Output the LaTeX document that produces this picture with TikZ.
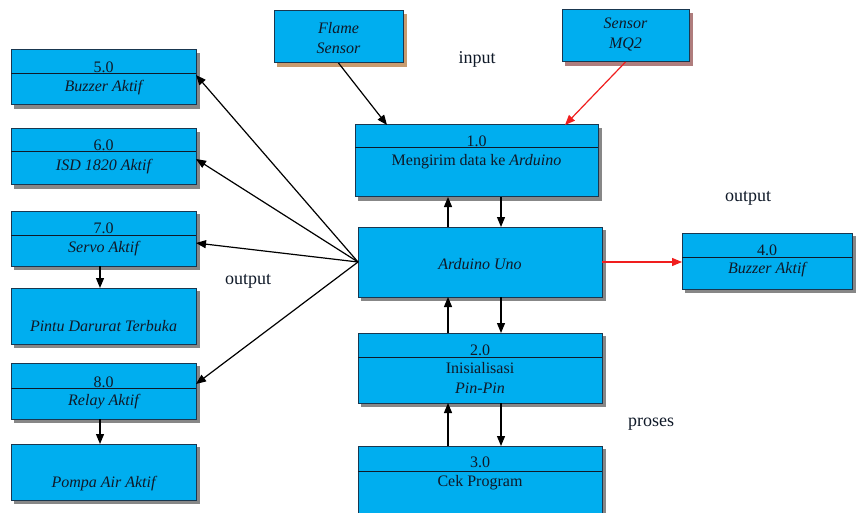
\documentclass[tikz,border=0pt]{standalone}
\usepackage{fontspec}
\setmainfont{Liberation Serif}
\usetikzlibrary{arrows.meta,backgrounds}
\definecolor{boxfill}{RGB}{0,174,239}
\definecolor{boxline}{RGB}{25,55,80}
\definecolor{txt}{RGB}{15,25,40}
\definecolor{shgray}{RGB}{135,135,135}
\definecolor{shtan}{RGB}{200,155,110}
\definecolor{shpink}{RGB}{175,125,125}
\definecolor{redline}{RGB}{240,30,30}
\tikzset{
  box/.style={draw=boxline, fill=boxfill, line width=1pt, inner sep=0pt, outer sep=0pt},
  shadowbox/.style={fill=#1, draw=none},
  divline/.style={draw=txt, line width=1pt},
  btext/.style={text=txt, font=\fontsize{16}{20}\selectfont, inner sep=0pt, align=center},
  itext/.style={btext, font=\fontsize{16}{20}\selectfont\itshape},
  label/.style={text=txt, font=\fontsize{18}{22}\selectfont, inner sep=0pt},
  arr/.style={draw=black, line width=1.2pt, -{Triangle[length=10pt,width=8pt]}},
  rarr/.style={draw=redline, line width=1.2pt, -{Triangle[length=10pt,width=8pt]}},
}
\begin{document}
\begin{tikzpicture}[x=1pt,y=-1pt]
\fill[white] (0,0) rectangle (856,513);
\useasboundingbox (0,0) rectangle (856,513);

% shadows (drawn first, under the boxes)
\fill[shadowbox=shgray] (14,53) rectangle (200,109);
\fill[shadowbox=shgray] (14,132) rectangle (200,189);
\fill[shadowbox=shgray] (14,214) rectangle (200,270);
\fill[shadowbox=shgray] (14,291) rectangle (200,348);
\fill[shadowbox=shgray] (14,366) rectangle (200,423);
\fill[shadowbox=shgray] (14,447) rectangle (200,504);
\fill[shadowbox=shtan] (277,14) rectangle (407,67);
\fill[shadowbox=shpink] (565,13) rectangle (693,66);
\fill[shadowbox=shgray] (358,128) rectangle (602,201);
\fill[shadowbox=shgray] (361,230) rectangle (606,301);
\fill[shadowbox=shgray] (361,336) rectangle (606,407);
\fill[shadowbox=shgray] (361,449) rectangle (606,513);
\fill[shadowbox=shgray] (685,236) rectangle (856,293);

% left boxes
\node[box, minimum width=185pt, minimum height=55pt, anchor=north west] (b5) at (11,50) {};
\node[box, minimum width=185pt, minimum height=56pt, anchor=north west] (b6) at (11,129) {};
\node[box, minimum width=185pt, minimum height=55pt, anchor=north west] (b7) at (11,211) {};
\node[box, minimum width=185pt, minimum height=56pt, anchor=north west] (bp) at (11,288) {};
\node[box, minimum width=185pt, minimum height=56pt, anchor=north west] (b8) at (11,363) {};
\node[box, minimum width=185pt, minimum height=56pt, anchor=north west] (bq) at (11,444) {};

% top sensors
\node[box, minimum width=129pt, minimum height=52pt, anchor=north west] (flame) at (274,11) {};
\node[box, minimum width=127pt, minimum height=52pt, anchor=north west] (mq) at (562,10) {};

% center boxes
\node[box, minimum width=243pt, minimum height=72pt, anchor=north west] (b1) at (355,125) {};
\node[box, minimum width=244pt, minimum height=70pt, anchor=north west] (ard) at (358,227) {};
\node[box, minimum width=244pt, minimum height=70pt, anchor=north west] (b2) at (358,333) {};
\node[box, minimum width=244pt, minimum height=75pt, anchor=north west] (b3) at (358,446) {};

% right box
\node[box, minimum width=170pt, minimum height=56pt, anchor=north west] (b4) at (682,233) {};

% dividers
\draw[divline] (b5.west |- 0,74) -- (b5.east |- 0,74);
\draw[divline] (b6.west |- 0,152) -- (b6.east |- 0,152);
\draw[divline] (b7.west |- 0,235) -- (b7.east |- 0,235);
\draw[divline] (b8.west |- 0,388) -- (b8.east |- 0,388);
\draw[divline] (b1.west |- 0,148) -- (b1.east |- 0,148);
\draw[divline] (b2.west |- 0,357) -- (b2.east |- 0,357);
\draw[divline] (b3.west |- 0,471) -- (b3.east |- 0,471);
\draw[divline] (b4.west |- 0,257) -- (b4.east |- 0,257);

% texts
\node[btext] (n5) at (103.5,67) {5.0};
\node[itext] (t5) at (103.5,88) {Buzzer Aktif};
\node[btext] (n6) at (103.5,145) {6.0};
\node[itext] (t6) at (103.5,167) {ISD 1820 Aktif};
\node[btext] (n7) at (103.5,228) {7.0};
\node[itext] (t7) at (103.5,249) {Servo Aktif};
\node[itext] (tp) at (103.5,326) {Pintu Darurat Terbuka};
\node[btext] (n8) at (103.5,382) {8.0};
\node[itext] (t8) at (103.5,402) {Relay Aktif};
\node[itext] (tq) at (103.5,484) {Pompa Air Aktif};

\node[itext] (tf) at (338.5,38) {Flame\\Sensor};
\node[itext] (tm) at (625.5,35) {Sensor\\MQ2};

\node[btext] (n1) at (476.5,141) {1.0};
\node[btext] (t1) at (476.5,162) {Mengirim data ke \textit{Arduino}};
\node[itext] (ta) at (480,264) {Arduino Uno};
\node[btext] (n2) at (480,350) {2.0};
\node[btext] (t2) at (480,378) {Inisialisasi\\\textit{Pin-Pin}};
\node[btext] (n3) at (480,462) {3.0};
\node[btext] (t3) at (480,483) {Cek Program};
\node[btext] (n4) at (767,250) {4.0};
\node[itext] (t4) at (767,270) {Buzzer Aktif};

% labels
\node[label] (lin) at (477,59) {input};
\node[label] (lout1) at (748,198) {output};
\node[label] (lout2) at (248,281) {output};
\node[label] (lpro) at (651,424) {proses};

% connectors
\coordinate (f1) at (387,125);
\coordinate (m1) at (565,125);
\draw[arr] (flame.south) -- (f1);
\draw[rarr] (mq.south) -- (m1);

\draw[arr] (ard.north -| 448,0) -- (b1.south -| 448,0);
\draw[arr] (b1.south -| 501,0) -- (ard.north -| 501,0);
\draw[arr] (b2.north -| 448,0) -- (ard.south -| 448,0);
\draw[arr] (ard.south -| 501,0) -- (b2.north -| 501,0);
\draw[arr] (b3.north -| 448,0) -- (b2.south -| 448,0);
\draw[arr] (b2.south -| 501,0) -- (b3.north -| 501,0);

\draw[rarr] (ard.east) -- (b4.west |- ard.east);

\coordinate (e5) at (b5.east |- 0,75);
\coordinate (e6) at (b6.east |- 0,159);
\coordinate (e7) at (b7.east |- 0,243);
\coordinate (e8) at (b8.east |- 0,384);
\draw[arr] (ard.west) -- (e5);
\draw[arr] (ard.west) -- (e6);
\draw[arr] (ard.west) -- (e7);
\draw[arr] (ard.west) -- (e8);

\draw[arr] (b7.south -| 100,0) -- (bp.north -| 100,0);
\draw[arr] (b8.south -| 100,0) -- (bq.north -| 100,0);
\end{tikzpicture}
\end{document}
